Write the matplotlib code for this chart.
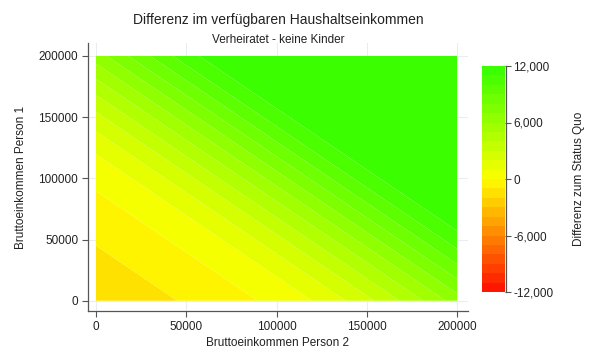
import numpy as np
import matplotlib
matplotlib.use("Agg")
import matplotlib.pyplot as plt
from matplotlib.colors import LinearSegmentedColormap
from matplotlib.ticker import FuncFormatter

plt.rcParams['font.family'] = ['Liberation Sans', 'DejaVu Sans']

# Bruttoeinkommen grid (Person 2 on x, Person 1 on y)
einkommen_p2 = [0, 25000, 50000, 75000, 100000, 125000, 150000, 175000, 200000]
einkommen_p1 = [0, 25000, 50000, 75000, 100000, 125000, 150000, 175000, 200000]

# Differenz zum Status Quo, rows = Person 1 (bottom to top), cols = Person 2
differenz = [
    [-1700, -1400, -900, -350, 250, 1200, 2700, 4500, 6500],
    [-1400, -900, -350, 250, 1200, 2700, 4500, 6500, 8600],
    [-900, -350, 250, 1200, 2700, 4500, 6500, 8600, 10600],
    [-350, 250, 1200, 2700, 4500, 6500, 8600, 10600, 12000],
    [250, 1200, 2700, 4500, 6500, 8600, 10600, 12000, 12000],
    [1200, 2700, 4500, 6500, 8600, 10600, 12000, 12000, 12000],
    [2700, 4500, 6500, 8600, 10600, 12000, 12000, 12000, 12000],
    [4500, 6500, 8600, 10600, 12000, 12000, 12000, 12000, 12000],
    [6500, 8600, 10600, 12000, 12000, 12000, 12000, 12000, 12000],
]

stufen = list(range(-12000, 12001, 1000))
cbar_ticks = [-12000, -6000, 0, 6000, 12000]
achsen_ticks = [0, 50000, 100000, 150000, 200000]


def make_plot():
    W, H = 605, 363
    fig = plt.figure(figsize=(W / 100, H / 100), dpi=100)

    # main axes (pixel box 88..468 x, 43..311 y)
    ax = fig.add_axes([88 / W, (H - 311) / H, 380 / W, 268 / H])
    cmap = LinearSegmentedColormap.from_list(
        'rg', [(0.0, (1.0, 0.05, 0.0)), (0.25, (1.0, 0.52, 0.0)),
               (0.5, (1.0, 1.0, 0.0)), (1.0, (0.2, 1.0, 0.0))])

    X, Y = np.meshgrid(einkommen_p2, einkommen_p1)
    cf = ax.contourf(X, Y, np.array(differenz), levels=stufen, cmap=cmap,
                     vmin=-12000, vmax=12000, antialiased=True)

    ax.set_xlim(-4432, 206094)
    ax.set_ylim(-8400, 210600)
    ax.set_xticks(achsen_ticks)
    ax.set_yticks(achsen_ticks)
    ax.set_axisbelow(True)
    ax.grid(True, color='#e6edf3', linewidth=0.8)
    for s in ['top', 'right']:
        ax.spines[s].set_visible(False)
    for s in ['left', 'bottom']:
        ax.spines[s].set_color('#555555')
        ax.spines[s].set_linewidth(0.9)
    ax.tick_params(labelsize=8.5, length=4, width=0.8, color='#555555',
                   labelcolor='#222222', pad=3)
    ax.set_xlabel('Bruttoeinkommen Person 2', fontsize=8.5, color='#222222', labelpad=3)
    ax.set_ylabel('Bruttoeinkommen Person 1', fontsize=8.5, color='#222222', labelpad=8)

    fig.text(278 / W, 1 - 20 / H, 'Differenz im verfügbaren Haushaltseinkommen',
             ha='center', va='center', fontsize=10, color='#222222')
    fig.text(278 / W, 1 - 40 / H, 'Verheiratet - keine Kinder',
             ha='center', va='center', fontsize=8.5, color='#222222')

    # colorbar
    cax = fig.add_axes([482 / W, (H - 292) / H, 23 / W, 226 / H])
    cb = fig.colorbar(cf, cax=cax, ticks=cbar_ticks)
    cb.outline.set_visible(False)
    cax.plot([1.04, 1.04], [0, 1], transform=cax.transAxes, color='#555555',
             linewidth=0.9, clip_on=False)
    cax.tick_params(labelsize=8.5, length=4, width=0.8, color='#555555',
                    labelcolor='#222222', pad=2)
    cb.ax.yaxis.set_major_formatter(FuncFormatter(lambda v, p: f'{int(v):,}'))
    cb.set_label('Differenz zum Status Quo', fontsize=8.5, color='#222222', labelpad=14)

    fig.savefig('out.png', dpi=100)


if __name__ == "__main__":
    make_plot()
